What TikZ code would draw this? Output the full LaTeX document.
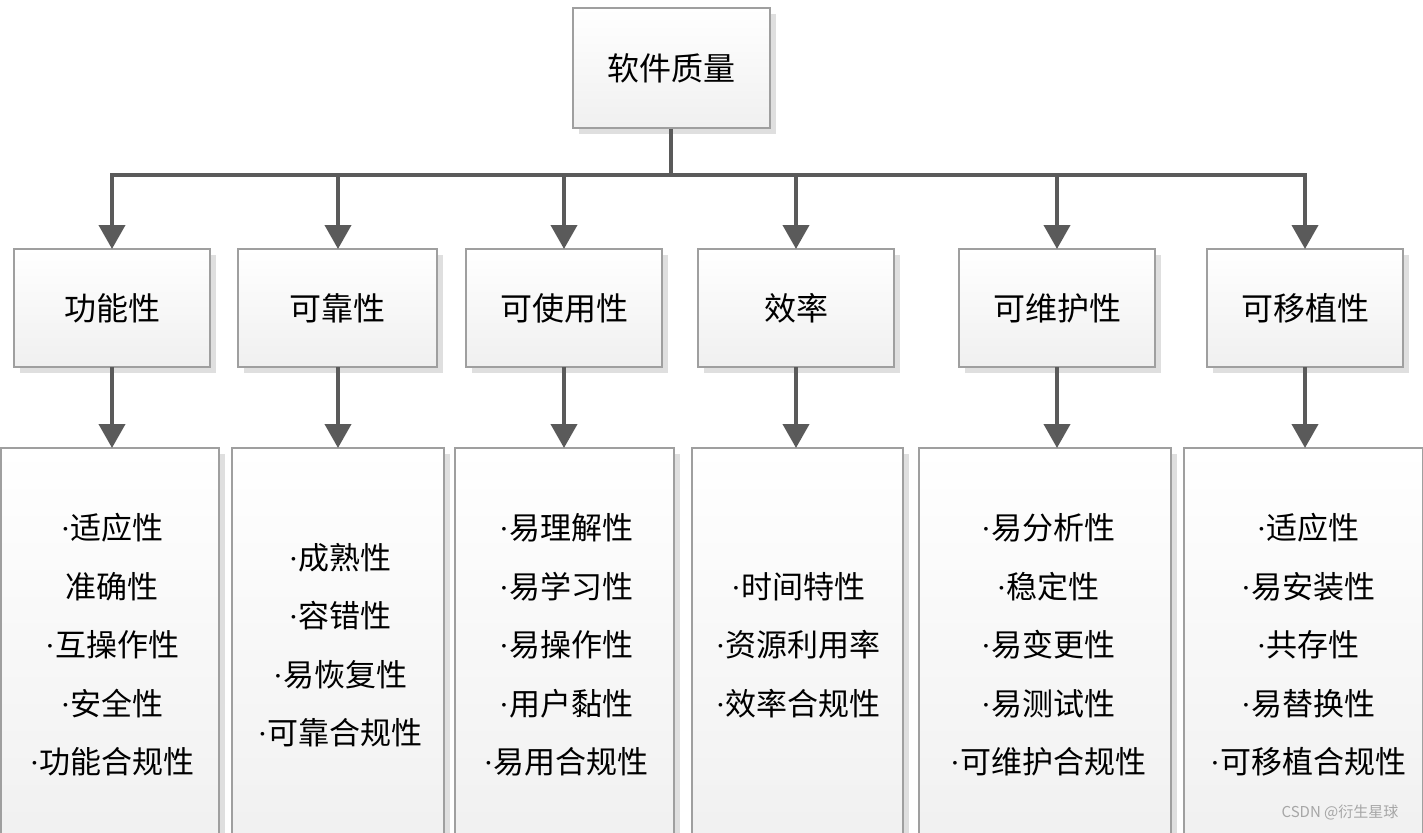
\documentclass[tikz,border=0pt]{standalone}
\usepackage{fontspec}
\setmainfont{Noto Sans CJK SC}
\newfontfamily\latdot{Liberation Serif}
\newcommand\mydt{{\latdot ·}}
\usetikzlibrary{arrows.meta,shadows}
\definecolor{ln}{HTML}{5A5A5A}
\begin{document}
\begin{tikzpicture}[x=1pt,y=-1pt,
  box/.style={draw=gray!75,line width=1.2pt,top color=white,bottom color=gray!12,
    drop shadow={shadow xshift=6pt,shadow yshift=-6pt,fill=gray!35,opacity=0.7},
    font=\fontsize{32}{40}\selectfont},
  con/.style={draw=ln,line width=4pt,-{Triangle[width=26pt,length=24pt]}},
  lst/.style={align=center,font=\fontsize{31}{58.5}\selectfont,inner sep=0pt}]
\useasboundingbox (0,0) rectangle (1423,832);
\clip (0,0) rectangle (1423,832);
\fill[white] (0,0) rectangle (1423,832);
% top
\path[box] (573,8) rectangle (770,128);
\node[font=\fontsize{32}{40}\selectfont] (top) at (671,68) {软件质量};
\coordinate (tb) at (671,129);
\coordinate (bus) at (671,175);
% mid boxes
\foreach \n/\a/\b/\t in {m1/14/210/功能性,m2/238/437/可靠性,m3/466/662/可使用性,m4/698/894/效率,m5/959/1155/可维护性,m6/1207/1403/可移植性}{
  \path[box] (\a,249) rectangle (\b,367);
  \node[font=\fontsize{32}{40}\selectfont] (\n) at ({(\a+\b)/2},308) {\t};
}
% bottom boxes
\foreach \n/\a/\b in {b1/1/219,b2/232/444,b3/455/674,b4/692/903,b5/919/1171,b6/1184/1423}{
  \path[box] (\a,448) rectangle (\b,860);
}
\node[lst] (l1) at (112,645) {\mydt 适应性\\准确性\\\mydt 互操作性\\\mydt 安全性\\\mydt 功能合规性};
\node[lst] (l2) at (340,645) {\mydt 成熟性\\\mydt 容错性\\\mydt 易恢复性\\\mydt 可靠合规性};
\node[lst] (l3) at (566,645) {\mydt 易理解性\\\mydt 易学习性\\\mydt 易操作性\\\mydt 用户黏性\\\mydt 易用合规性};
\node[lst] (l4) at (798,645) {\mydt 时间特性\\\mydt 资源利用率\\\mydt 效率合规性};
\node[lst] (l5) at (1048,645) {\mydt 易分析性\\\mydt 稳定性\\\mydt 易变更性\\\mydt 易测试性\\\mydt 可维护合规性};
\node[lst] (l6) at (1308,645) {\mydt 适应性\\\mydt 易安装性\\\mydt 共存性\\\mydt 易替换性\\\mydt 可移植合规性};
% connectors
\draw[draw=ln,line width=4pt] (tb) -- (bus);
\draw[draw=ln,line width=4pt] (112,175) -- (1305,175);
\foreach \x/\m in {112/m1,338/m2,564/m3,796/m4,1057/m5,1305/m6}{
  \draw[con] (\x,173) -- (\x,249);
  \draw[con] (\x,367) -- (\x,448);
}
\node[font=\fontsize{15}{18}\selectfont,text=gray!70] (wm) at (1340,812) {CSDN @衍生星球};
\end{tikzpicture}
\end{document}
